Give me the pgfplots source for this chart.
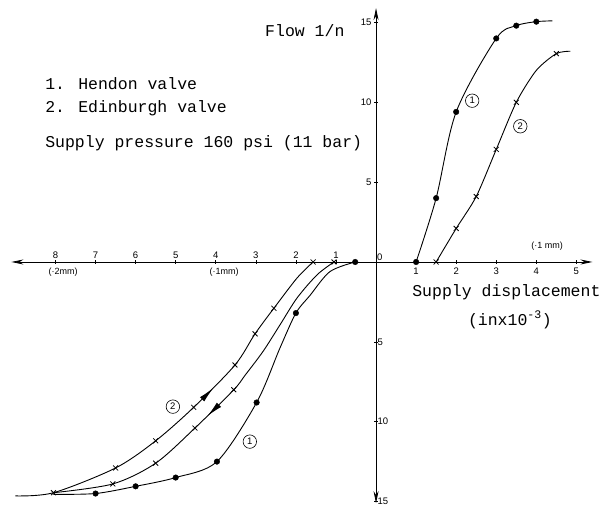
\documentclass[border=0pt]{standalone}
\usepackage{pgfplots}
\pgfplotsset{compat=1.18}
\usepackage{fontspec}
\setmainfont{Liberation Mono}
\newfontfamily\sansfont{Liberation Sans}
\usetikzlibrary{arrows.meta,decorations.markings}
\begin{document}
\begin{tikzpicture}
\path[use as bounding box] (-11.4pt,-2.9pt) rectangle (595.6pt,503.1pt);
\begin{axis}[
  scale only axis, width=581pt, height=495pt,
  xmin=-9.1, xmax=5.4, ymin=-15.1, ymax=15.9,
  axis lines=middle,
  axis line style={line width=0.8pt, {Stealth[length=12pt,width=5pt]}-{Stealth[length=12pt,width=5pt]}},
  tick style={black, line width=0.6pt},
  major tick length=4pt,
  /pgf/number format/assume math mode=true,
  ticklabel style={font=\sansfont\fontsize{9.5}{11}\selectfont},
  xtick={1,2,3,4,5},
  extra x ticks={-8,-7,-6,-5,-4,-3,-2,-1},
  extra x tick labels={8,7,6,5,4,3,2,1},
  extra x tick style={tick label style={anchor=south, yshift=2pt}},
  ytick={5,10,15},
  yticklabel style={xshift=1pt},
  extra y ticks={-5,-10,-15},
  extra y tick labels={5,10,15},
  extra y tick style={tick label style={anchor=west, xshift=-1pt}},
  clip=false,
]
% ---- Curve 1 (Hendon) right
\addplot[black, line width=0.9pt, smooth, tension=0.5] coordinates {
 (1,0) (1.5,4.0) (2,9.4) (3,14.0) (3.5,14.8) (4,15.05) (4.4,15.1)};
\addplot[black, only marks, mark=*, mark size=2.8pt] coordinates {
 (1,0) (1.5,4.0) (2,9.4) (3,14.0) (3.5,14.8) (4,15.05)};
% ---- Curve 2 (Edinburgh) right
\addplot[black, line width=0.9pt, smooth, tension=0.45] coordinates {
 (1.5,0) (2,2.1) (2.5,4.1) (3,7.05) (3.5,10.0) (4.0,12.0) (4.5,13.05) (4.85,13.2)};
\addplot[black, only marks, mark=x, mark size=3.5pt, mark options={line width=0.8pt}] coordinates {
 (1.5,0) (2,2.1) (2.5,4.1) (3,7.05) (3.5,10.0) (4.5,13.05)};
% ---- Curve 1 left
\addplot[black, line width=0.9pt, smooth, tension=0.5] coordinates {
 (-8.05,-14.55) (-7,-14.5) (-6,-14.05) (-5,-13.5) (-3.97,-12.5) (-2.98,-8.8) (-2.4,-5.4) (-2,-3.2) (-1.65,-2.1) (-1.15,-0.6) (-0.52,0)};
\addplot[black, only marks, mark=*, mark size=2.8pt] coordinates {
 (-7,-14.5) (-6,-14.05) (-5,-13.5) (-3.97,-12.5) (-2.98,-8.8) (-2,-3.2) (-0.52,0)};
% ---- Curve 2 left, outer branch (up)
\addplot[black, line width=0.9pt, smooth, tension=0.5,
  postaction={decorate}, decoration={markings, mark=at position 0.59 with {\arrow{Latex[length=16pt,width=6pt]}}}] coordinates {
 (-9,-14.65) (-8.05,-14.45) (-6.5,-12.9) (-5.5,-11.2) (-4.55,-9.1) (-3.52,-6.45) (-3.02,-4.5) (-2.55,-2.9) (-1.97,-1.0) (-1.57,0)};
\addplot[black, only marks, mark=x, mark size=3.5pt, mark options={line width=0.8pt}] coordinates {
 (-8.05,-14.45) (-6.5,-12.9) (-5.5,-11.2) (-4.55,-9.1) (-3.52,-6.45) (-3.02,-4.5) (-2.55,-2.9) (-1.57,0)};
% ---- Curve 2 left, inner branch (down)
\addplot[black, line width=0.9pt, smooth, tension=0.5,
  postaction={decorate}, decoration={markings, mark=at position 0.47 with {\arrowreversed{Latex[length=16pt,width=6pt]}}}] coordinates {
 (-8.05,-14.45) (-6.57,-13.9) (-5.5,-12.6) (-4.52,-10.4) (-3.55,-8.0) (-3.27,-7.1) (-2.82,-5.6) (-2.4,-3.95) (-1.97,-2.25) (-1.47,-0.8) (-1.05,0)};
\addplot[black, only marks, mark=x, mark size=3.5pt, mark options={line width=0.8pt}] coordinates {
 (-6.57,-13.9) (-5.5,-12.6) (-4.52,-10.4) (-3.55,-8.0) (-1.05,0)};
% ---- circled labels
\node[circle, draw, line width=0.6pt, inner sep=1.8pt, font=\sansfont\fontsize{9.5}{10}\selectfont] at (axis cs:2.4,10.1) {1};
\node[circle, draw, line width=0.6pt, inner sep=1.8pt, font=\sansfont\fontsize{9.5}{10}\selectfont] at (axis cs:3.6,8.5) {2};
\node[circle, draw, line width=0.6pt, inner sep=1.8pt, font=\sansfont\fontsize{9.5}{10}\selectfont] at (axis cs:-5.07,-9.06) {2};
\node[circle, draw, line width=0.6pt, inner sep=1.8pt, font=\sansfont\fontsize{9.5}{10}\selectfont] at (axis cs:-3.15,-11.25) {1};
% ---- texts
\node[anchor=south west, inner sep=1pt, font=\sansfont\fontsize{9.5}{11}\selectfont] at (axis cs:0,0) {0};
\node[anchor=west, inner sep=0pt, font=\fontsize{16.5}{18}\selectfont] at (axis cs:-2.77,14.46) {Flow 1/n};
\node[anchor=west, inner sep=0pt, font=\fontsize{16.5}{18}\selectfont] at (axis cs:-8.26,11.2) {1. Hendon valve};
\node[anchor=west, inner sep=0pt, font=\fontsize{16.5}{18}\selectfont] at (axis cs:-8.26,9.64) {2. Edinburgh valve};
\node[anchor=west, inner sep=0pt, font=\fontsize{16.5}{18}\selectfont] at (axis cs:-8.26,7.45) {Supply pressure 160 psi (11 bar)};
\node[anchor=west, inner sep=0pt, font=\fontsize{16.5}{18}\selectfont] at (axis cs:0.9,-1.88) {Supply displacement};
\node[anchor=center, inner sep=0pt, font=\fontsize{16.5}{18}\selectfont] at (axis cs:3.34,-3.63) {(inx10\textsuperscript{-3})};
\node[anchor=center, inner sep=0pt, font=\sansfont\fontsize{9}{10}\selectfont] at (axis cs:4.27,1.0) {(·1 mm)};
\node[anchor=center, inner sep=0pt, font=\sansfont\fontsize{9}{10}\selectfont] at (axis cs:-7.81,-0.63) {(·2mm)};
\node[anchor=center, inner sep=0pt, font=\sansfont\fontsize{9}{10}\selectfont] at (axis cs:-3.79,-0.63) {(·1mm)};
\end{axis}
\end{tikzpicture}
\end{document}
